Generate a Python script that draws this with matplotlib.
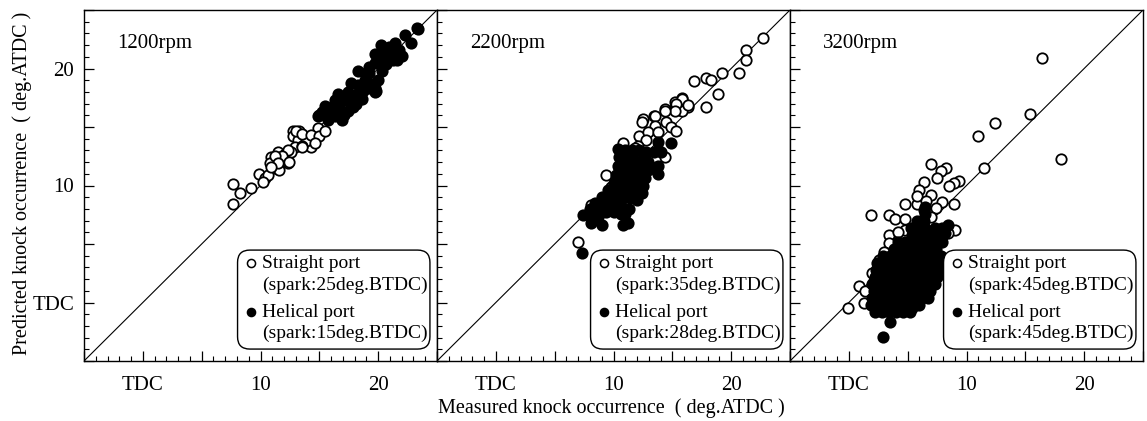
import matplotlib
matplotlib.use("Agg")
import matplotlib.pyplot as plt
from matplotlib.patches import FancyBboxPatch
from matplotlib.ticker import MultipleLocator, FuncFormatter

plt.rcParams['font.family'] = ['Liberation Serif', 'DejaVu Serif']

# ---------------- data ----------------
rpm_titles = ["1200rpm", "2200rpm", "3200rpm"]
straight_labels = ["(spark:25deg.BTDC)", "(spark:35deg.BTDC)", "(spark:45deg.BTDC)"]
helical_labels = ["(spark:15deg.BTDC)", "(spark:28deg.BTDC)", "(spark:45deg.BTDC)"]

p1_straight_x = [7.7, 7.7, 8.3, 9.2, 9.9, 10.4, 10.9, 10.8, 11.5, 11.8, 12.3, 12.8, 13.3, 12.8, 13.2, 14.3, 14.7,
                 14.9, 13.9, 12.9, 11.2, 12.1, 10.6, 11.6, 12.6, 13.5, 13.0, 13.5, 14.3, 15.0, 15.5, 13.5, 14.6,
                 12.3, 11.8, 11.2, 11.5, 12.4, 10.9, 10.2, 15.0]
p1_straight_y = [10.1, 8.4, 9.4, 9.8, 11.0, 10.6, 12.4, 11.9, 12.9, 12.3, 11.9, 14.7, 14.7, 14.2, 13.9, 13.3, 14.2,
                 14.9, 13.8, 13.3, 11.5, 12.7, 10.9, 11.3, 12.9, 13.4, 14.7, 14.4, 14.3, 14.2, 14.7, 13.3, 13.6,
                 13.0, 12.5, 12.5, 11.9, 12.0, 11.6, 10.3, 16.0]
p1_helical_x = [15.2, 14.9, 15.7, 16.3, 16.3, 16.9, 17.4, 17.9, 17.4, 17.1, 16.6, 18.3, 18.9, 18.3, 19.2, 19.7,
                19.7, 20.0, 19.7, 20.2, 20.9, 21.1, 21.4, 21.6, 20.6, 20.4, 19.2, 18.0, 22.0, 22.8, 22.3, 23.3,
                18.6, 19.4, 20.7, 21.3, 17.7, 17.5, 15.8, 16.0, 17.1, 18.1, 19.2, 20.3, 19.8, 19.7, 20.9, 23.4,
                16.7, 17.8, 18.7, 19.0, 20.5, 21.8, 15.5, 16.5]
p1_helical_y = [16.3, 15.9, 15.6, 17.3, 15.9, 15.6, 16.4, 16.7, 18.0, 17.3, 17.8, 18.6, 19.0, 19.8, 20.1, 20.5,
                18.3, 19.0, 21.2, 22.0, 21.8, 21.3, 22.2, 20.7, 20.7, 21.4, 19.6, 17.7, 21.1, 22.2, 22.9, 23.5,
                17.4, 18.7, 20.4, 20.7, 18.8, 17.3, 16.6, 16.1, 16.0, 17.0, 18.3, 19.8, 18.1, 18.0, 21.5, 23.4,
                16.9, 17.6, 18.1, 19.6, 21.0, 21.6, 16.8, 16.6]

p2_straight_x = [22.7, 21.3, 21.3, 20.7, 19.2, 18.9, 17.9, 18.3, 16.8, 17.9, 16.3, 15.8, 15.2, 15.2, 14.4, 13.4,
                 12.5, 15.8, 15.8, 15.3, 16.3, 15.2, 14.4, 13.5, 12.4, 13.5, 14.5, 14.9, 15.3, 12.2, 12.9, 13.8,
                 10.8, 12.8, 12.1, 13.8, 14.4, 10.8, 10.5, 9.4, 13.4, 9.8, 8.1, 7.0, 11.8]
p2_straight_y = [22.6, 21.6, 20.7, 19.6, 19.6, 17.8, 19.2, 19.0, 18.9, 16.7, 16.7, 17.5, 17.1, 16.6, 16.5, 15.9,
                 15.7, 16.4, 17.4, 17.0, 16.9, 16.4, 16.4, 15.9, 15.4, 15.1, 15.4, 15.0, 14.7, 14.2, 14.6, 14.6,
                 13.6, 13.9, 13.4, 13.0, 12.45, 12.6, 11.5, 10.9, 11.5, 9.9, 8.3, 5.2, 13.2]
p2_helical_x = [10.4, 11.0, 11.6, 12.2, 12.8, 13.4, 14.0, 14.9, 13.8,
                10.5, 11.1, 11.7, 12.3, 12.9, 13.8,
                10.4, 11.0, 11.6, 12.2, 12.9,
                10.2, 10.8, 11.4, 12.0, 12.7, 13.8,
                10.0, 10.6, 11.2, 11.8, 12.5,
                9.5, 10.1, 10.7, 11.3, 11.9, 12.4,
                9.0, 9.6, 10.2, 10.8, 11.4, 12.0,
                8.4, 9.0, 9.6, 10.2, 10.8, 11.3,
                8.0, 8.7, 9.4, 10.0, 10.6, 11.0,
                7.4, 8.1, 8.7,
                8.1, 9.0, 10.8, 11.2,
                7.3]
p2_helical_y = [13.1, 13.0, 13.0, 13.0, 12.9, 12.9, 12.9, 13.6, 13.7,
                12.4, 12.3, 12.2, 12.1, 12.0, 11.7,
                11.7, 11.6, 11.5, 11.4, 11.3,
                10.9, 10.9, 10.8, 10.7, 10.6, 11.0,
                10.2, 10.2, 10.1, 10.1, 10.0,
                9.6, 9.6, 9.6, 9.5, 9.4, 9.4,
                9.0, 9.0, 9.0, 8.9, 8.9, 8.8,
                8.5, 8.4, 8.3, 8.2, 8.1, 8.0,
                8.0, 7.8, 7.7, 7.7, 7.6, 7.6,
                7.5, 7.3, 7.3,
                6.8, 6.6, 6.6, 6.8,
                4.2]

p3_straight_x = [16.4, 15.4, 12.4, 11.0, 11.5, 18.0, 7.0, 8.3, 7.8, 7.5, 6.4, 9.4, 8.9, 6.0, 8.5, 7.0, 8.9, 7.9,
                 4.8, 5.8, 7.4, 1.9, 3.4, 3.9, 4.8, 7.0, 9.0, 8.4, 4.8, 3.4, 3.4, 2.55, 0.85, 1.4, 2.1, -0.1,
                 1.3, 5.8, 6.6, 4.2, 5.1, 2.0, 2.3, 3.0]
p3_straight_y = [20.9, 16.1, 15.3, 14.2, 11.5, 12.3, 11.8, 11.5, 11.2, 10.6, 10.3, 10.4, 10.2, 9.6, 10.0, 9.2,
                 8.4, 8.6, 8.4, 8.4, 8.1, 7.5, 7.5, 7.1, 7.1, 7.35, 6.2, 5.9, 6.2, 5.8, 5.1, 3.6, 1.4, 1.0, 1.8,
                 -0.5, 0.0, 9.1, 8.7, 6.0, 4.8, 2.5, 0.5, 4.3]
p3_helical_x = [2.2, 2.8, 3.4, 4.0, 4.6, 5.2,
                1.9, 2.5, 3.1, 3.7, 4.3, 4.9, 5.5, 6.0,
                2.0, 2.6, 3.2, 3.8, 4.4, 5.0, 5.6, 6.2, 6.7,
                2.1, 2.7, 3.3, 3.9, 4.5, 5.1, 5.7, 6.3, 6.9,
                2.0, 2.6, 3.2, 3.8, 4.4, 5.0, 5.6, 6.2, 6.8, 7.3,
                2.2, 2.8, 3.4, 4.0, 4.6, 5.2, 5.8, 6.4, 7.0, 7.5,
                2.3, 2.9, 3.5, 4.1, 4.7, 5.3, 5.9, 6.5, 7.1, 7.6,
                2.4, 3.0, 3.6, 4.2, 4.8, 5.4, 6.0, 6.6, 7.2, 7.8,
                2.9, 3.5, 4.1, 4.7, 5.3, 5.9, 6.5, 7.1, 7.8,
                3.8, 4.4, 5.0, 5.6, 6.2, 6.8, 7.4,
                4.2, 4.8, 5.4, 6.0, 6.6, 7.2, 7.9,
                5.4, 6.0, 6.6, 7.2, 8.0,
                5.3, 5.9, 6.5, 7.3, 7.9,
                5.8, 6.4, 6.5,
                6.5, 8.2, 8.4, 6.4, 3.5, 2.9, 5.4, 7.0]
p3_helical_y = [-0.8, -0.8, -0.8, -0.8, -0.8, -0.8,
                -0.2, -0.2, -0.2, -0.2, -0.2, -0.2, -0.2, -0.2,
                0.4, 0.4, 0.4, 0.4, 0.4, 0.4, 0.4, 0.4, 0.4,
                1.0, 1.0, 1.0, 1.0, 1.0, 1.0, 1.0, 1.0, 1.0,
                1.6, 1.6, 1.6, 1.6, 1.6, 1.6, 1.6, 1.6, 1.6, 1.6,
                2.2, 2.2, 2.2, 2.2, 2.2, 2.2, 2.2, 2.2, 2.2, 2.2,
                2.8, 2.8, 2.8, 2.8, 2.8, 2.8, 2.8, 2.8, 2.8, 2.8,
                3.4, 3.4, 3.4, 3.4, 3.4, 3.4, 3.4, 3.4, 3.4, 3.4,
                4.0, 4.0, 4.0, 4.0, 4.0, 4.0, 4.0, 4.0, 4.0,
                4.6, 4.6, 4.6, 4.6, 4.6, 4.6, 4.6,
                5.2, 5.2, 5.2, 5.2, 5.2, 5.2, 5.2,
                5.8, 5.8, 5.8, 5.8, 5.8,
                6.4, 6.4, 6.4, 6.4, 6.4,
                7.0, 7.0, 7.6,
                8.2, 5.9, 6.6, 7.9, -1.7, -2.95, -0.5, 1.7]

straight_x = [p1_straight_x, p2_straight_x, p3_straight_x]
straight_y = [p1_straight_y, p2_straight_y, p3_straight_y]
helical_x = [p1_helical_x, p2_helical_x, p3_helical_x]
helical_y = [p1_helical_y, p2_helical_y, p3_helical_y]

tick_values = [0, 10, 20]
tick_labels = ["TDC", "10", "20"]
axis_min, axis_max = -5, 25

# ---------------- figure ----------------
W, H = 1147, 421
fig = plt.figure(figsize=(W / 100, H / 100), dpi=100)

left_px = [84, 437, 790]
panel_w = 353
top_px, bot_px = 10, 361

def fmt(v, pos):
    for t, l in zip(tick_values, tick_labels):
        if abs(v - t) < 1e-6:
            return l
    return ""

ms = 56
for i in range(3):
    ax = fig.add_axes([left_px[i] / W, (H - bot_px) / H, panel_w / W, (bot_px - top_px) / H])
    ax.set_xlim(axis_min, axis_max)
    ax.set_ylim(axis_min, axis_max)
    ax.plot([axis_min, axis_max], [axis_min, axis_max], color='black', lw=0.8, zorder=1)
    ax.scatter(straight_x[i], straight_y[i], s=ms, facecolors='white', edgecolors='black', linewidths=1.3, zorder=2)
    ax.scatter(helical_x[i], helical_y[i], s=ms, facecolors='black', edgecolors='black', linewidths=1.3, zorder=3)

    for sp in ax.spines.values():
        sp.set_linewidth(1.0)
    ax.xaxis.set_major_locator(MultipleLocator(5))
    ax.xaxis.set_minor_locator(MultipleLocator(1))
    ax.yaxis.set_major_locator(MultipleLocator(5))
    ax.yaxis.set_minor_locator(MultipleLocator(1))
    ax.xaxis.set_major_formatter(FuncFormatter(fmt))
    ax.yaxis.set_major_formatter(FuncFormatter(fmt))
    ax.tick_params(which='both', direction='in', top=False, right=False, labelsize=15)
    ax.tick_params(axis='x', pad=11)
    ax.tick_params(axis='y', pad=7)
    ax.tick_params(which='major', length=7, width=0.9)
    ax.tick_params(which='minor', length=3.5, width=0.8)
    if i > 0:
        ax.tick_params(axis='y', labelleft=False)

    ax.text(0.093, 0.905, rpm_titles[i], transform=ax.transAxes, fontsize=15, ha='left', va='center')

    # legend box
    box = FancyBboxPatch((0.435, 0.034), 0.545, 0.282, boxstyle="round,pad=0,rounding_size=0.035",
                         transform=ax.transAxes, facecolor='white', edgecolor='black', lw=1.0, zorder=5)
    ax.add_patch(box)
    ax.scatter([0.473], [0.279], s=34, facecolors='white', edgecolors='black', linewidths=1.1,
               transform=ax.transAxes, zorder=6, clip_on=False)
    ax.scatter([0.473], [0.1396], s=34, facecolors='black', edgecolors='black', linewidths=1.1,
               transform=ax.transAxes, zorder=6, clip_on=False)
    ax.text(0.504, 0.279, "Straight port", transform=ax.transAxes, fontsize=14, ha='left', va='center', zorder=7)
    ax.text(0.504, 0.2165, straight_labels[i], transform=ax.transAxes, fontsize=14, ha='left', va='center', zorder=7)
    ax.text(0.504, 0.1396, "Helical port", transform=ax.transAxes, fontsize=14, ha='left', va='center', zorder=7)
    ax.text(0.504, 0.0798, helical_labels[i], transform=ax.transAxes, fontsize=14, ha='left', va='center', zorder=7)

fig.text(0.533, 0.031, "Measured knock occurrence  ( deg.ATDC )", fontsize=14.5, ha='center', va='center')
fig.text(0.019, 0.565, "Predicted knock occurrence  ( deg.ATDC )", fontsize=14.5, ha='center', va='center',
         rotation=90)

fig.savefig("out.png", dpi=100)
